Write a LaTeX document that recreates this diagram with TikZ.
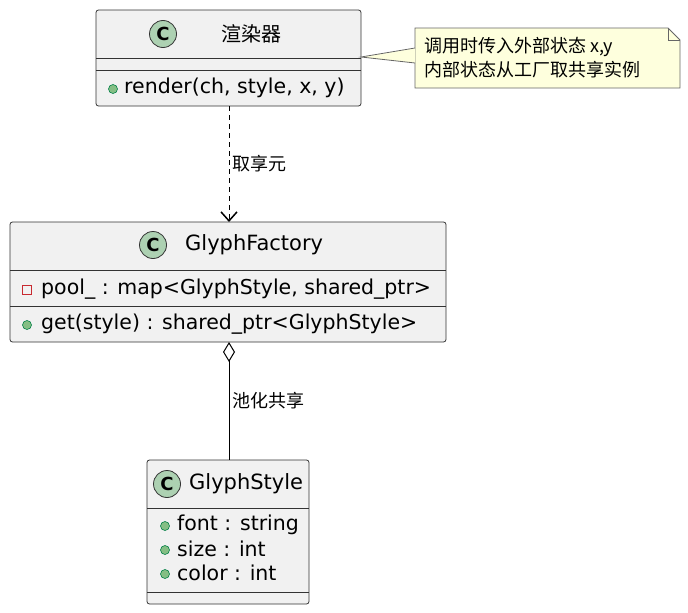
\documentclass[tikz,border=0pt]{standalone}
\usepackage{fontspec}
\setmainfont{DejaVu Sans}
\newfontfamily\cjk{Noto Sans CJK SC}
\usetikzlibrary{arrows.meta}
\definecolor{boxfill}{HTML}{F1F1F1}
\definecolor{cfill}{HTML}{ADD1B2}
\definecolor{notefill}{HTML}{FEFFDD}
\definecolor{pubc}{HTML}{84BE84}
\definecolor{pubd}{HTML}{038048}
\definecolor{privc}{HTML}{C82930}
\tikzset{
 box/.style={draw=black!80,fill=boxfill,rounded corners=2.5pt,line width=0.8pt},
 sep/.style={draw=black!80,line width=0.8pt},
 txt/.style={anchor=west,inner sep=0pt,font=\fontsize{20.5}{22}\selectfont},
 ttl/.style={anchor=west,inner sep=0pt,font=\fontsize{21}{22}\selectfont},
 lbl/.style={anchor=west,inner sep=0pt,font=\cjk\fontsize{18}{20}\selectfont},
 cicon/.style={circle,draw=black!80,fill=cfill,minimum size=27pt,inner sep=0pt,font=\bfseries\fontsize{18}{18}\selectfont,line width=0.8pt},
 pub/.style={circle,draw=pubd,fill=pubc,minimum size=9pt,inner sep=0pt,line width=0.6pt},
 priv/.style={rectangle,draw=privc,minimum size=9pt,inner sep=0pt,line width=0.8pt},
}
\begin{document}
\begin{tikzpicture}[x=1pt,y=-1pt]
\useasboundingbox (0,0) rectangle (688,613);
% renderer box
\draw[box] (96,10) rectangle (361,106);
\draw[sep] (96,58) -- (361,58);
\draw[sep] (96,70) -- (361,70);
\node[cicon] (c1) at (163,34) {C};
\node[anchor=west,inner sep=0pt,font=\cjk\fontsize{20}{22}\selectfont] (r) at (221,34) {渲染器};
\node[pub] (p1) at (113,89) {};
\node[txt] (rr) at (124,88) {render(ch, style, x, y)};
\coordinate (rtop) at (229,10); \coordinate (rbot) at (229,106); \coordinate (rright) at (361,57);
% note
\draw[draw=black!60,fill=notefill,line width=0.8pt] (415,28) -- (668,28) -- (680,40) -- (680,88) -- (415,88) -- cycle;
\draw[draw=black!60,line width=0.8pt] (668,28) -- (668,40) -- (680,40);
\node[anchor=west,inner sep=0pt,font=\cjk\fontsize{18}{20}\selectfont] (n1) at (424,47) {调用时传入外部状态 x,y};
\node[anchor=west,inner sep=0pt,font=\cjk\fontsize{18}{20}\selectfont] (n2) at (424,70) {内部状态从工厂取共享实例};
\coordinate (nl1) at (415,48); \coordinate (nl2) at (415,63);
\draw[draw=black!60,fill=notefill,line width=0.8pt] (nl1) -- (rright) -- (nl2);
% factory
\draw[box] (10,222) rectangle (446,342);
\draw[sep] (10,270) -- (446,270);
\draw[sep] (10,306) -- (446,306);
\node[cicon] (c2) at (153,245) {C};
\node[ttl] (f) at (185,245) {GlyphFactory};
\node[priv] (q1) at (27,290) {};
\node[txt] (fa) at (41,289) {pool\_ : map<GlyphStyle, shared\_ptr>};
\node[pub] (q2) at (27,325) {};
\node[txt] (fb) at (41,324) {get(style) : shared\_ptr<GlyphStyle>};
\coordinate (ftop) at (229,222); \coordinate (fbot) at (229,342);
% style
\draw[box] (147,460) rectangle (309,604);
\draw[sep] (147,508) -- (309,508);
\draw[sep] (147,592) -- (309,592);
\node[cicon] (c3) at (167,484) {C};
\node[ttl] (s) at (189,484) {GlyphStyle};
\node[pub] (s1) at (165,526) {}; \node[txt] (sa) at (177,525) {font : string};
\node[pub] (s2) at (165,550) {}; \node[txt] (sb) at (177,549) {size : int};
\node[pub] (s3) at (165,574) {}; \node[txt] (sc) at (177,573) {color : int};
\coordinate (stop) at (229,460);
% connectors
\draw[line width=1pt,dash pattern=on 5pt off 4pt,-{Straight Barb[length=9pt,width=16pt,line width=1.5pt]}] (rbot) -- (ftop);
\node[lbl] (l1) at (232,164) {取享元};
\draw[line width=1pt,{Diamond[open,fill=white,length=20pt,width=12pt,line width=1pt]}-] (fbot) -- (stop);
\node[lbl] (l2) at (232,401) {池化共享};
\end{tikzpicture}
\end{document}
